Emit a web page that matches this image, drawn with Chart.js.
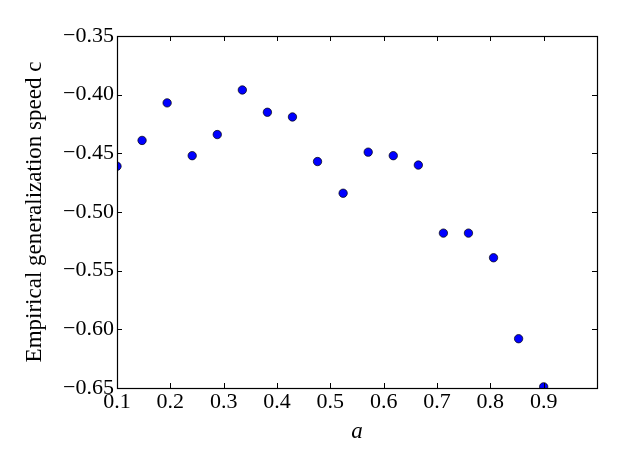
<!DOCTYPE html>
<html>
<head>
<meta charset="utf-8">
<script src="https://cdn.jsdelivr.net/npm/chart.js@4"></script>
<style>
html,body{margin:0;padding:0;background:#fff;}
#wrap{width:623px;height:467px;}
</style>
</head>
<body>
<div id="wrap"><canvas id="c" width="623" height="467"></canvas></div>
<script>
const aValues = [0.100, 0.147, 0.194, 0.241, 0.288, 0.335, 0.382, 0.429, 0.476,
                 0.524, 0.571, 0.618, 0.665, 0.712, 0.759, 0.806, 0.853, 0.900];
const cValues = [-0.461, -0.439, -0.407, -0.452, -0.434, -0.396, -0.415, -0.419, -0.457,
                 -0.484, -0.449, -0.452, -0.460, -0.518, -0.518, -0.539, -0.608, -0.649];
const xTickValues = [0.1, 0.2, 0.3, 0.4, 0.5, 0.6, 0.7, 0.8, 0.9];
const xTickLabels = ['0.1', '0.2', '0.3', '0.4', '0.5', '0.6', '0.7', '0.8', '0.9'];
const yTickValues = [-0.35, -0.40, -0.45, -0.50, -0.55, -0.60, -0.65];
const yTickLabels = ['\u22120.35', '\u22120.40', '\u22120.45', '\u22120.50', '\u22120.55', '\u22120.60', '\u22120.65'];
const xTitle = 'a';
const yTitle = 'Empirical generalization speed c';

const FONT = "'Liberation Serif', 'DejaVu Serif', serif";

const framePlugin = {
  id: 'frame',
  afterDatasetsDraw(chart) {
    const ctx = chart.ctx;
    const a = chart.chartArea;
    const xs = chart.scales.x, ys = chart.scales.y;
    const L = 5;
    ctx.save();
    ctx.strokeStyle = '#000';
    ctx.lineWidth = 1;
    ctx.beginPath();
    xTickValues.forEach(v => {
      const px = Math.round(xs.getPixelForValue(v)) + 0.5;
      ctx.moveTo(px, a.bottom); ctx.lineTo(px, a.bottom - L);
      ctx.moveTo(px, a.top); ctx.lineTo(px, a.top + L);
    });
    yTickValues.forEach(v => {
      const py = Math.round(ys.getPixelForValue(v)) + 0.5;
      ctx.moveTo(a.left, py); ctx.lineTo(a.left + L, py);
      ctx.moveTo(a.right, py); ctx.lineTo(a.right - L, py);
    });
    ctx.stroke();
    ctx.lineWidth = 1.2;
    ctx.strokeRect(Math.round(a.left) + 0.5, Math.round(a.top) + 0.5,
                   Math.round(a.right - a.left), Math.round(a.bottom - a.top));
    ctx.restore();
  }
};

new Chart(document.getElementById('c'), {
  type: 'scatter',
  data: {
    datasets: [{
      data: aValues.map((x, i) => ({x: x, y: cValues[i]})),
      backgroundColor: '#0000ff',
      borderColor: '#000000',
      borderWidth: 0.7,
      pointRadius: 4.2,
      pointHoverRadius: 4.2,
      clip: 0
    }]
  },
  options: {
    responsive: false,
    animation: false,
    events: [],
    layout: { padding: { left: 0, top: 36, right: 26, bottom: 0 } },
    plugins: { legend: { display: false }, tooltip: { enabled: false } },
    scales: {
      x: {
        type: 'linear',
        min: 0.1, max: 1.0,
        afterBuildTicks: s => { s.ticks = xTickValues.map(v => ({value: v})); },
        afterFit: s => { s.height = 79; },
        grid: { display: false, drawTicks: false },
        border: { display: false },
        ticks: {
          padding: 1,
          color: '#000',
          font: { family: FONT, size: 22 },
          maxRotation: 0,
          autoSkip: false,
          callback: (v) => { const i = xTickValues.findIndex(t => Math.abs(t - v) < 1e-9); return i >= 0 ? xTickLabels[i] : ''; }
        },
        title: {
          display: true, text: xTitle, color: '#000',
          font: { family: FONT, size: 23, style: 'italic' },
          padding: { top: 0, bottom: 21 }
        }
      },
      y: {
        type: 'linear',
        min: -0.65, max: -0.35,
        afterBuildTicks: s => { s.ticks = yTickValues.map(v => ({value: v})); },
        afterFit: s => { s.width = 117; },
        grid: { display: false, drawTicks: false },
        border: { display: false },
        ticks: {
          padding: 3,
          color: '#000',
          font: { family: FONT, size: 22 },
          autoSkip: false,
          callback: (v) => { const i = yTickValues.findIndex(t => Math.abs(t - v) < 1e-9); return i >= 0 ? yTickLabels[i] : ''; }
        },
        title: {
          display: true, text: yTitle, color: '#000',
          font: { family: FONT, size: 23 },
          padding: { top: 21, bottom: 0 }
        }
      }
    }
  },
  plugins: [framePlugin]
});
</script>
</body>
</html>
